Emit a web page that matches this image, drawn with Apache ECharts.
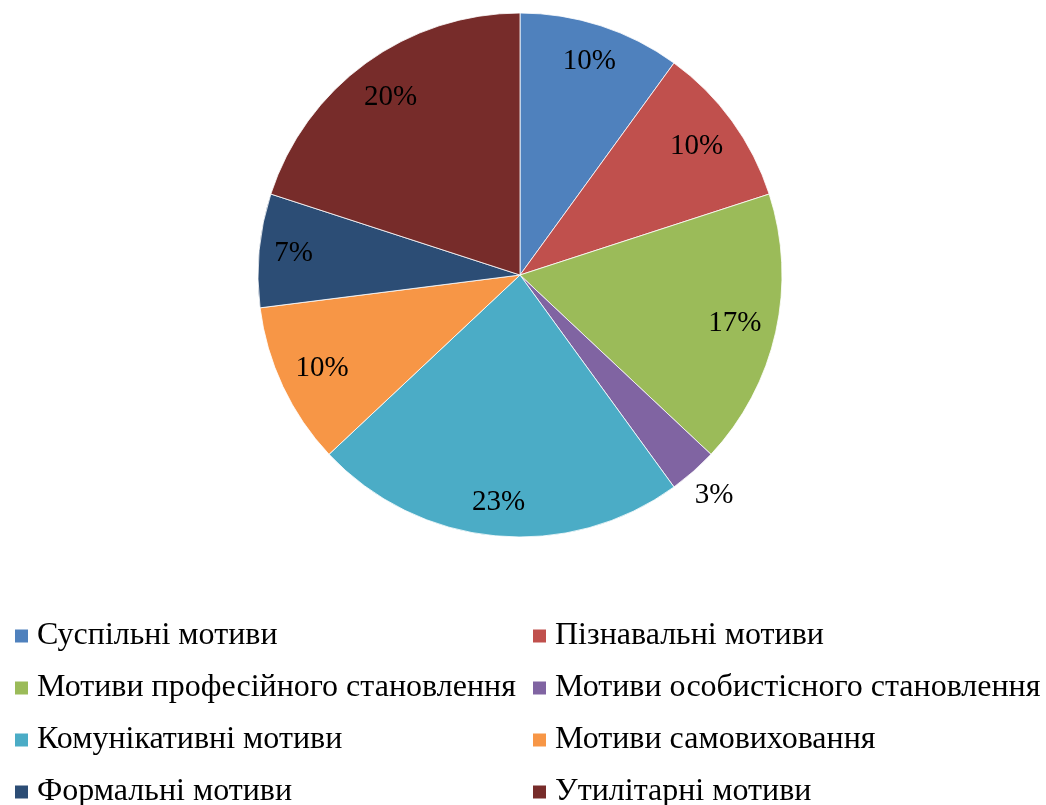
<!DOCTYPE html>
<html>
<head>
<meta charset="utf-8">
<script src="https://cdn.jsdelivr.net/npm/echarts@6/dist/echarts.min.js"></script>
<style>
  html, body { margin: 0; padding: 0; background: #fff; }
  #chart { width: 1046px; height: 805px; }
</style>
</head>
<body>
<div id="chart"></div>
<script>
// categories and shares (%)
const categories = [
    'Суспільні мотиви',
    'Пізнавальні мотиви',
    'Мотиви професійного становлення',
    'Мотиви особистісного становлення',
    'Комунікативні мотиви',
    'Мотиви самовиховання',
    'Формальні мотиви',
    'Утилітарні мотиви'
];
const values = [10, 10, 17, 3, 23, 10, 7, 20];
const colors = ['#4F81BD', '#C0504D', '#9BBB59', '#8064A2', '#4BACC6', '#F79646', '#2C4D75', '#772C2A'];
const outsideLabel = ['Мотиви особистісного становлення'];

const PIE_CX = 520, PIE_CY = 275, PIE_R = 262;

window.addEventListener('load', function () {
    let chart = echarts.init(document.getElementById('chart'));
    const font = "'Liberation Serif', 'Times New Roman', serif";

    let legendCommon = {
        orient: 'vertical',
        top: 619,
        height: 200,
        padding: 0,
        itemWidth: 15,
        itemHeight: 15,
        itemGap: 18,
        icon: 'rect',
        selectedMode: false,
        textStyle: { fontFamily: font, fontSize: 32, color: '#000', lineHeight: 34, padding: [0, 0, 0, 3] }
    };

    let option = {
        color: colors,
        animation: false,
        legend: [
            Object.assign({}, legendCommon, {
                left: 13,
                data: categories.filter(function (c, i) { return i % 2 === 0; })
            }),
            Object.assign({}, legendCommon, {
                left: 531,
                data: categories.filter(function (c, i) { return i % 2 === 1; })
            })
        ],
        series: [
            {
                type: 'pie',
                center: [PIE_CX, PIE_CY],
                radius: PIE_R,
                startAngle: 90,
                clockwise: true,
                silent: true,
                itemStyle: { borderColor: '#fff', borderWidth: 0.8 },
                label: {
                    show: true,
                    position: 'inside',
                    formatter: '{d}%',
                    fontFamily: font,
                    fontSize: 29,
                    color: '#000',
                    textBorderWidth: 0
                },
                labelLine: { show: false },
                // move labels out along their own direction, like "inside end" / "outside end"
                labelLayout: function (params) {
                    let r = params.labelRect;
                    let cx = r.x + r.width / 2, cy = r.y + r.height / 2;
                    let dx = cx - PIE_CX, dy = cy - PIE_CY;
                    let d = Math.sqrt(dx * dx + dy * dy) || 1;
                    let ux = dx / d, uy = dy / d;
                    let s = r.width * 0.42 * Math.abs(ux) + r.height * 0.5 * Math.abs(uy);
                    let out = outsideLabel.indexOf(categories[params.dataIndex]) >= 0;
                    let dist = out ? PIE_R + 10 + s : PIE_R - 17 - s;
                    return { x: PIE_CX + ux * dist, y: PIE_CY + uy * dist, align: 'center', verticalAlign: 'middle' };
                },
                emphasis: { disabled: true },
                data: categories.map(function (name, i) {
                    return { name: name, value: values[i] };
                })
            }
        ]
    };

    chart.setOption(option);
}, false);
</script>
</body>
</html>
